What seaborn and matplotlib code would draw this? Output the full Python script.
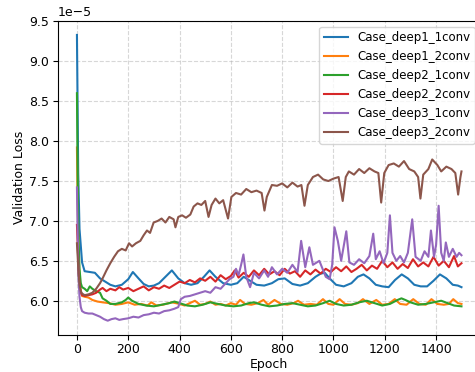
import numpy as np
import pandas as pd
import matplotlib
matplotlib.use("Agg")
import matplotlib.pyplot as plt
import seaborn as sns

SCALE = 1e-5  # values below are in units of 1e-5

labels = ["Case_deep1_1conv", "Case_deep1_2conv", "Case_deep2_1conv",
          "Case_deep2_2conv", "Case_deep3_1conv", "Case_deep3_2conv"]
colors = ["#1f77b4", "#ff7f0e", "#2ca02c", "#d62728", "#9467bd", "#8c564b"]

d1c1_epoch = [0, 5, 10, 20, 30, 50, 70, 90, 110, 130, 150, 175, 200, 218, 240, 260, 280, 300,
              320, 345, 370, 395, 420, 445, 470, 495, 517, 540, 570, 600, 625, 650, 675, 700,
              730, 760, 785, 810, 840, 870, 900, 930, 950, 966, 985, 1010, 1040, 1070, 1095,
              1117, 1140, 1165, 1190, 1215, 1240, 1266, 1290, 1315, 1340, 1365, 1390, 1415,
              1440, 1465, 1485, 1499]
d1c1_loss = [9.33, 7.6, 6.9, 6.48, 6.37, 6.36, 6.35, 6.28, 6.24, 6.2, 6.18, 6.2, 6.27, 6.36,
             6.28, 6.21, 6.18, 6.19, 6.22, 6.3, 6.38, 6.28, 6.22, 6.2, 6.22, 6.3, 6.38, 6.3,
             6.22, 6.2, 6.22, 6.3, 6.25, 6.2, 6.19, 6.22, 6.27, 6.28, 6.21, 6.19, 6.22, 6.3,
             6.34, 6.35, 6.28, 6.2, 6.18, 6.22, 6.3, 6.33, 6.28, 6.2, 6.18, 6.17, 6.26, 6.33,
             6.28, 6.2, 6.18, 6.18, 6.25, 6.33, 6.28, 6.2, 6.19, 6.17]

d1c2_epoch = [0, 3, 6, 10, 15, 20, 30, 45, 60, 80, 100, 125, 150, 175, 200, 225, 250, 275, 290,
              310, 335, 370, 400, 420, 440, 460, 480, 500, 520, 540, 560, 580, 600, 620, 636,
              655, 680, 705, 727, 745, 770, 795, 820, 845, 862, 885, 910, 935, 959, 980, 1000,
              1024, 1045, 1070, 1095, 1115, 1140, 1167, 1190, 1215, 1239, 1260, 1285, 1311,
              1335, 1360, 1382, 1405, 1430, 1450, 1467, 1485, 1499]
d1c2_loss = [7.92, 7.2, 6.6, 6.3, 6.12, 6.06, 6.05, 6.04, 6.01, 5.99, 5.98, 5.97, 5.95, 5.96,
             5.98, 5.95, 5.96, 5.94, 5.98, 5.94, 5.95, 5.98, 5.96, 5.94, 5.97, 6.0, 5.95,
             5.96, 5.99, 5.95, 5.96, 5.94, 5.97, 5.95, 6.01, 5.96, 5.95, 5.97, 6.01, 5.95,
             6.01, 5.96, 5.95, 5.97, 6.0, 5.95, 5.96, 5.95, 6.02, 5.96, 5.95, 6.02, 5.96,
             5.95, 5.97, 6.02, 5.96, 6.01, 5.95, 5.96, 6.02, 5.96, 5.95, 6.02, 5.96, 5.95,
             6.02, 5.96, 5.95, 5.96, 6.02, 5.97, 5.96]

d2c1_epoch = [0, 3, 6, 10, 15, 20, 30, 40, 50, 60, 75, 90, 100, 115, 130, 150, 175, 190, 200,
              215, 240, 270, 300, 330, 360, 380, 400, 430, 460, 490, 520, 550, 580, 610, 640,
              670, 690, 720, 750, 780, 810, 840, 870, 900, 930, 960, 985, 1010, 1040, 1070,
              1100, 1130, 1160, 1190, 1220, 1250, 1265, 1280, 1300, 1330, 1360, 1390, 1420,
              1445, 1470, 1499]
d2c1_loss = [8.6, 7.5, 6.8, 6.4, 6.22, 6.17, 6.15, 6.12, 6.18, 6.15, 6.12, 6.1, 6.03, 6.0,
             5.96, 5.96, 5.98, 6.01, 6.04, 6.0, 5.96, 5.94, 5.93, 5.95, 5.97, 5.99, 5.97,
             5.94, 5.93, 5.95, 5.98, 5.96, 5.94, 5.93, 5.94, 5.97, 5.98, 5.95, 5.93, 5.94,
             5.96, 5.97, 5.95, 5.93, 5.94, 5.97, 6.0, 5.96, 5.94, 5.95, 5.98, 6.0, 5.97,
             5.94, 5.96, 6.01, 6.03, 6.01, 5.98, 5.95, 5.96, 5.98, 6.0, 5.97, 5.94, 5.93]

d2c2_epoch = [0, 3, 6, 10, 15, 20, 30, 45, 60, 75, 90, 100, 115, 130, 150, 165, 180, 200, 220,
              240, 260, 280, 300, 320, 340, 360, 380, 400, 420, 440, 460, 480, 500, 520, 540,
              560, 580, 600, 615, 630, 650, 670, 690, 710, 730, 750, 770, 790, 810, 830, 850,
              870, 890, 910, 930, 950, 970, 990, 1010, 1030, 1050, 1070, 1090, 1110, 1130,
              1150, 1170, 1190, 1210, 1230, 1250, 1270, 1290, 1310, 1330, 1350, 1370, 1390,
              1410, 1430, 1450, 1470, 1485, 1499]
d2c2_loss = [6.95, 6.7, 6.4, 6.2, 6.1, 6.07, 6.06, 6.07, 6.08, 6.1, 6.14, 6.16, 6.12, 6.15,
             6.13, 6.17, 6.14, 6.16, 6.12, 6.15, 6.18, 6.13, 6.17, 6.15, 6.19, 6.16, 6.2,
             6.24, 6.22, 6.26, 6.23, 6.28, 6.25, 6.3, 6.24, 6.32, 6.27, 6.31, 6.38, 6.29,
             6.35, 6.3, 6.38, 6.32, 6.4, 6.33, 6.37, 6.32, 6.4, 6.34, 6.37, 6.3, 6.38, 6.33,
             6.39, 6.34, 6.4, 6.36, 6.42, 6.37, 6.43, 6.36, 6.4, 6.45, 6.38, 6.44, 6.4, 6.5,
             6.42, 6.48, 6.4, 6.46, 6.41, 6.52, 6.43, 6.48, 6.43, 6.55, 6.44, 6.5, 6.42, 6.56,
             6.43, 6.47]

d3c1_epoch = [0, 3, 6, 10, 15, 20, 30, 45, 60, 75, 90, 105, 120, 135, 150, 165, 180, 200, 220,
              240, 260, 280, 300, 320, 340, 360, 380, 395, 405, 420, 440, 460, 480, 500, 520,
              540, 560, 580, 595, 610, 620, 630, 640, 649, 660, 675, 690, 710, 730, 745, 760,
              780, 800, 820, 840, 860, 874, 890, 906, 920, 945, 970, 985, 995, 1004, 1017,
              1030, 1050, 1062, 1080, 1100, 1120, 1140, 1155, 1165, 1180, 1195, 1210, 1220,
              1230, 1245, 1260, 1275, 1290, 1307, 1320, 1340, 1355, 1370, 1380, 1392, 1400,
              1410, 1420, 1430, 1438, 1450, 1465, 1480, 1490, 1499]
d3c1_loss = [7.42, 6.8, 6.3, 6.05, 5.92, 5.87, 5.85, 5.84, 5.84, 5.82, 5.8, 5.77, 5.75, 5.77,
             5.78, 5.76, 5.77, 5.78, 5.8, 5.79, 5.82, 5.83, 5.85, 5.84, 5.87, 5.88, 5.9,
             5.92, 6.02, 6.05, 6.06, 6.08, 6.1, 6.12, 6.1, 6.17, 6.15, 6.22, 6.27, 6.3, 6.4,
             6.32, 6.45, 6.58, 6.3, 6.17, 6.35, 6.28, 6.38, 6.3, 6.42, 6.33, 6.4, 6.35, 6.45,
             6.36, 6.75, 6.42, 6.67, 6.45, 6.5, 6.3, 6.27, 6.45, 6.92, 6.75, 6.5, 6.87, 6.48,
             6.45, 6.52, 6.47, 6.56, 6.84, 6.52, 6.62, 6.47, 6.6, 7.07, 6.6, 6.5, 6.56, 6.48,
             6.6, 7.02, 6.55, 6.5, 6.62, 6.55, 6.88, 6.55, 6.7, 7.19, 6.6, 6.5, 6.73, 6.55,
             6.65, 6.55, 6.6, 6.57]

d3c2_epoch = [0, 3, 6, 10, 15, 20, 30, 45, 60, 75, 90, 100, 115, 130, 145, 160, 175, 190, 203,
              215, 230, 247, 260, 273, 285, 299, 315, 330, 345, 360, 377, 384, 395, 410, 425,
              442, 455, 470, 485, 500, 513, 525, 540, 555, 570, 589, 602, 620, 640, 660, 680,
              700, 720, 731, 740, 760, 780, 800, 820, 840, 860, 875, 887, 900, 920, 940, 960,
              980, 1000, 1020, 1036, 1048, 1060, 1080, 1100, 1120, 1140, 1160, 1175, 1186,
              1198, 1215, 1235, 1255, 1275, 1295, 1315, 1330, 1339, 1350, 1370, 1385, 1405,
              1420, 1440, 1460, 1475, 1486, 1495, 1499]
d3c2_loss = [6.72, 6.55, 6.35, 6.2, 6.12, 6.09, 6.07, 6.08, 6.1, 6.15, 6.22, 6.28, 6.38, 6.47,
             6.55, 6.62, 6.65, 6.63, 6.72, 6.68, 6.72, 6.75, 6.82, 6.88, 6.85, 6.98, 7.0,
             7.03, 6.98, 7.05, 7.02, 6.92, 7.05, 7.07, 7.04, 7.08, 7.18, 7.22, 7.2, 7.25,
             7.05, 7.2, 7.28, 7.22, 7.26, 7.03, 7.3, 7.35, 7.33, 7.4, 7.36, 7.38, 7.35, 7.13,
             7.3, 7.45, 7.44, 7.47, 7.42, 7.48, 7.43, 7.45, 7.19, 7.45, 7.55, 7.58, 7.52, 7.5,
             7.53, 7.55, 7.25, 7.55, 7.62, 7.58, 7.65, 7.6, 7.66, 7.62, 7.6, 7.23, 7.6, 7.7,
             7.72, 7.68, 7.75, 7.65, 7.62, 7.55, 7.28, 7.58, 7.65, 7.77, 7.7, 7.62, 7.68,
             7.65, 7.6, 7.33, 7.55, 7.62]

series = [(d1c1_epoch, d1c1_loss), (d1c2_epoch, d1c2_loss), (d2c1_epoch, d2c1_loss),
          (d2c2_epoch, d2c2_loss), (d3c1_epoch, d3c1_loss), (d3c2_epoch, d3c2_loss)]

frames = []
for name, (ep, ls) in zip(labels, series):
    frames.append(pd.DataFrame({"Epoch": ep, "Loss": np.array(ls) * SCALE, "Case": name}))
df = pd.concat(frames, ignore_index=True)

plt.rcParams["font.family"] = ["DejaVu Sans"]
fig = plt.figure(figsize=(4.75, 3.72), dpi=100)
ax = fig.add_axes([0.1215, 0.0995, 0.8905, 0.845])

sns.lineplot(data=df, x="Epoch", y="Loss", hue="Case", hue_order=labels,
             palette=colors, estimator=None, errorbar=None, sort=False,
             linewidth=1.5, ax=ax)

ax.set_xlabel("Epoch", fontsize=9, labelpad=1.5)
ax.set_ylabel("Validation Loss", fontsize=9, labelpad=2.5)
ax.tick_params(labelsize=9, pad=2.5)
ax.yaxis.get_offset_text().set_fontsize(9)
ax.grid(True, linestyle="--", alpha=0.5)
sns.move_legend(ax, "upper right", title=None, fontsize=8.5)

fig.savefig("out.png", dpi=100)
